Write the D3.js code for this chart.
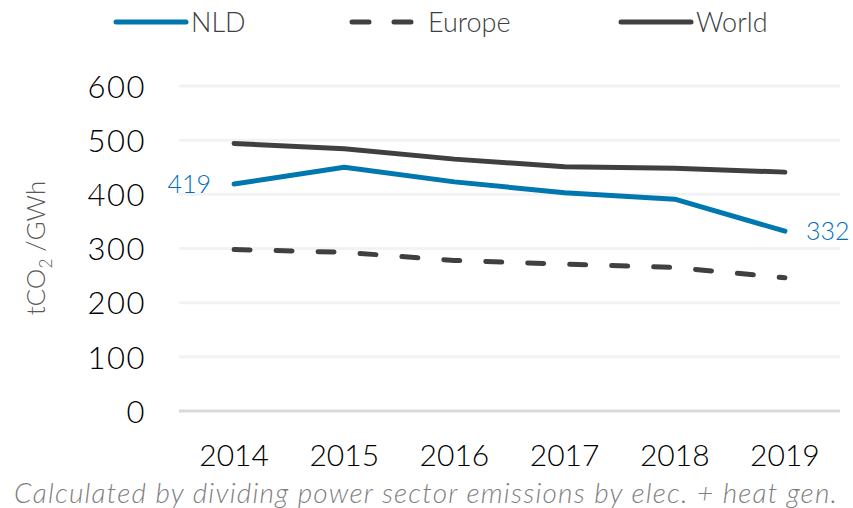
<!DOCTYPE html>
<html>
<head>
<meta charset="utf-8">
<script src="https://cdn.jsdelivr.net/npm/d3@7"></script>
<style>
  body { margin: 0; background: #fff; }
  svg text { font-family: Lato, "Open Sans", sans-serif; font-weight: 300; }
</style>
</head>
<body>
<svg class="chart"></svg>
<script>
const years = ['2014', '2015', '2016', '2017', '2018', '2019']
const nld = [419, 450, 423, 403, 391, 332]
const europe = [298, 293, 278, 271, 265, 246]
const world = [494, 484, 465, 451, 448, 441]
const yTicks = [0, 100, 200, 300, 400, 500, 600]

const W = 853, H = 508
const margin = { top: 86, right: 13, bottom: 97, left: 179 }
const width = W - margin.left - margin.right,
      height = H - margin.top - margin.bottom

const svg = d3.select('.chart')
  .attr('width', W)
  .attr('height', H)

const chart = svg.append('g')
  .attr('transform', `translate(${margin.left}, ${margin.top})`)

const x = d3.scaleBand()
  .domain(years)
  .range([0, width])
  .padding(0)

const y = d3.scaleLinear()
  .domain([0, 600])
  .range([height, 0])

// gridlines
chart.append('g')
  .selectAll('line')
  .data(yTicks)
  .enter()
  .append('line')
  .attr('x1', 0)
  .attr('x2', width)
  .attr('y1', d => y(d))
  .attr('y2', d => y(d))
  .attr('stroke', d => d === 0 ? '#d9d9d9' : '#f2f2f2')
  .attr('stroke-width', 3)

// y axis labels
const yAxis = d3.axisLeft(y).tickValues(yTicks).tickSize(0).tickPadding(33)
chart.append('g')
  .call(yAxis)
  .call(g => g.select('.domain').remove())
  .selectAll('text')
  .attr('font-size', 31)
  .attr('letter-spacing', 1.5)
  .attr('fill', '#000')
  .attr('dy', '0.36em')

// x axis labels
const xAxis = d3.axisBottom(x).tickSize(0).tickPadding(34)
chart.append('g')
  .attr('transform', `translate(0, ${height})`)
  .call(xAxis)
  .call(g => g.select('.domain').remove())
  .selectAll('text')
  .attr('font-size', 30)
  .attr('fill', '#000')

const line = d3.line()
  .x((d, i) => x(years[i]) + x.bandwidth() / 2)
  .y(d => y(d))

chart.append('path')
  .datum(europe)
  .attr('d', line)
  .attr('fill', 'none')
  .attr('stroke', '#404040')
  .attr('stroke-width', 5)
  .attr('stroke-linecap', 'round')
  .attr('stroke-dasharray', '16,26')

chart.append('path')
  .datum(world)
  .attr('d', line)
  .attr('fill', 'none')
  .attr('stroke', '#404040')
  .attr('stroke-width', 5)
  .attr('stroke-linecap', 'round')
  .attr('stroke-linejoin', 'round')

chart.append('path')
  .datum(nld)
  .attr('d', line)
  .attr('fill', 'none')
  .attr('stroke', '#0077ae')
  .attr('stroke-width', 5)
  .attr('stroke-linecap', 'round')
  .attr('stroke-linejoin', 'round')

// end labels for NLD
chart.append('text')
  .attr('x', x(years[0]) + x.bandwidth() / 2 - 23)
  .attr('y', y(nld[0]))
  .attr('dy', '0.36em')
  .attr('text-anchor', 'end')
  .attr('font-size', 25)
  .attr('font-weight', 400)
  .attr('fill', '#0070c0')
  .text(nld[0])

chart.append('text')
  .attr('x', x(years[5]) + x.bandwidth() / 2 + 21)
  .attr('y', y(nld[5]))
  .attr('dy', '0.36em')
  .attr('text-anchor', 'start')
  .attr('font-size', 25)
  .attr('font-weight', 400)
  .attr('fill', '#0070c0')
  .text(nld[5])

// y axis title
svg.append('text')
  .attr('transform', 'translate(45, 248) rotate(-90)')
  .attr('text-anchor', 'middle')
  .attr('font-size', 26)
  .attr('fill', '#595959')
  .call(t => {
    t.append('tspan').text('tCO')
    t.append('tspan').attr('font-size', 17).attr('dy', 7).text('2')
    t.append('tspan').attr('dy', -7).text(' /GWh')
  })

// legend
const legend = [
  { name: 'NLD', color: '#0077ae', dash: null, x: 116 },
  { name: 'Europe', color: '#404040', dash: '17,25', x: 352 },
  { name: 'World', color: '#404040', dash: null, x: 621 }
]
const lg = svg.append('g').selectAll('g')
  .data(legend)
  .enter()
  .append('g')
  .attr('transform', d => `translate(${d.x}, 22)`)

lg.append('line')
  .attr('x1', 0)
  .attr('x2', d => d.dash ? 59 : 70)
  .attr('stroke', d => d.color)
  .attr('stroke-width', 5)
  .attr('stroke-linecap', 'round')
  .attr('stroke-dasharray', d => d.dash)

lg.append('text')
  .attr('x', d => d.dash ? 76 : 75)
  .attr('dy', '0.36em')
  .attr('font-size', 27)
  .attr('fill', '#404040')
  .text(d => d.name)

// footnote
svg.append('text')
  .attr('x', 14)
  .attr('y', 503)
  .attr('text-anchor', 'start')
  .attr('font-size', 28)
  .attr('font-style', 'italic')
  .attr('fill', '#7f7f7f')
  .attr('textLength', 823)
  .attr('lengthAdjust', 'spacing')
  .text('Calculated by dividing power sector emissions by elec. + heat gen.')
</script>
</body>
</html>
